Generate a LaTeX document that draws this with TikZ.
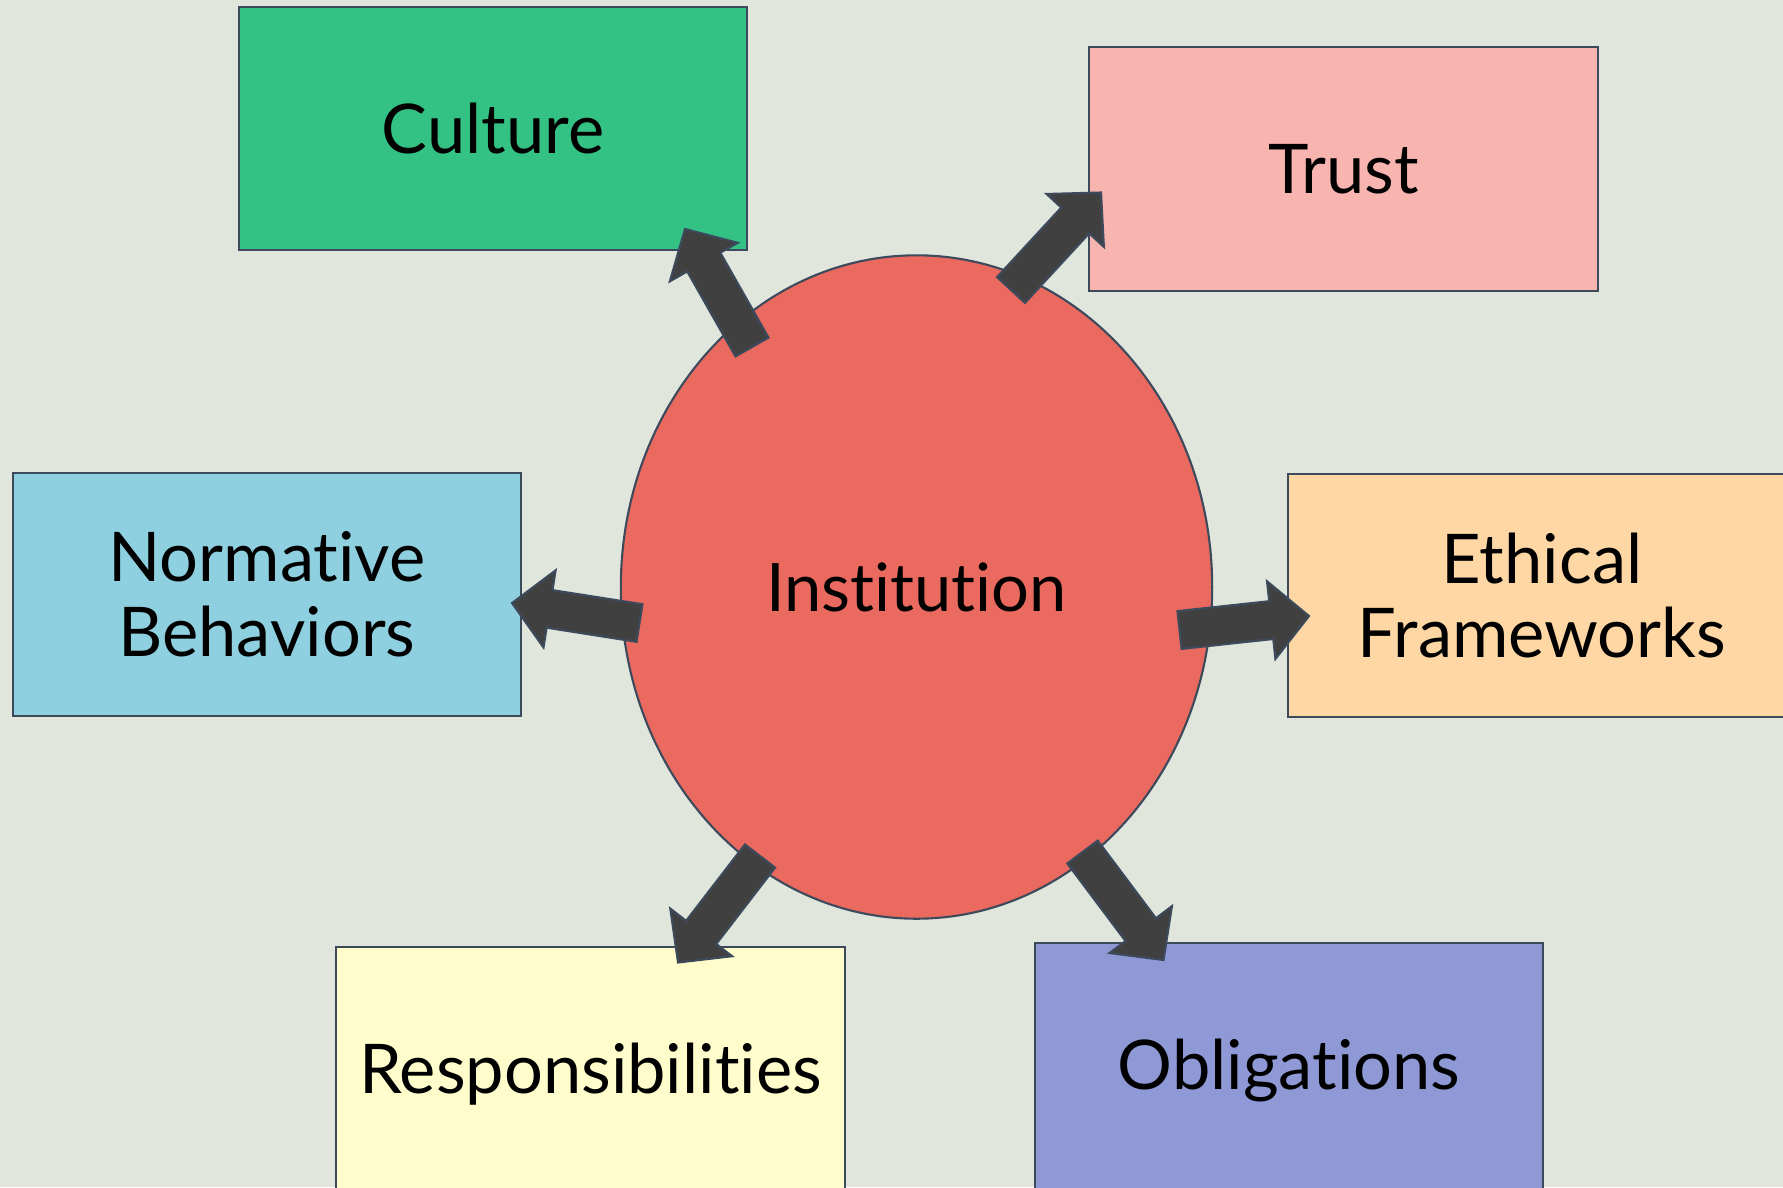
\documentclass[tikz,border=0pt]{standalone}
\usepackage{fontspec}
\setmainfont[Ligatures=NoCommon]{Lato}
\usepackage{tikz}
\usetikzlibrary{calc,shapes.geometric}
\definecolor{bgcol}{RGB}{224,230,220}
\definecolor{edgecol}{RGB}{61,74,92}
\definecolor{arrowcol}{RGB}{64,64,64}
\definecolor{culturegreen}{RGB}{51,193,132}
\definecolor{trustpink}{RGB}{248,181,176}
\definecolor{normblue}{RGB}{142,208,224}
\definecolor{ethicorange}{RGB}{254,215,165}
\definecolor{respyellow}{RGB}{255,253,204}
\definecolor{obligpurple}{RGB}{142,153,214}
\definecolor{instred}{RGB}{234,106,95}

% block arrow from tail to tip
\newcommand{\blockarrow}[2]{%
  \coordinate (ba-base) at ($(#2)!0.38cm!(#1)$);
  \draw[blockarr] ($(#1)!0.19cm!90:(#2)$) -- ($(ba-base)!0.19cm!90:(#2)$)
    -- ($(ba-base)!0.39cm!90:(#2)$) -- (#2) -- ($(ba-base)!0.39cm!-90:(#2)$)
    -- ($(ba-base)!0.19cm!-90:(#2)$) -- ($(#1)!0.19cm!-90:(#2)$) -- cycle;
}

\begin{document}
\begin{tikzpicture}[x=0.01cm,y=-0.01cm,
    topic/.style={rectangle,draw=edgecol,line width=0.6pt,inner sep=0pt,align=center,
      minimum width=5.08cm,minimum height=2.43cm,font=\fontsize{19.5}{21.3}\selectfont},
    blockarr/.style={fill=arrowcol,draw=edgecol,line width=0.6pt,line join=miter}]

    \useasboundingbox (0,0) rectangle (1783,1187);
    \fill[bgcol] (0,0) rectangle (1783,1187);

    % Centre
    \node[ellipse,draw=edgecol,line width=0.6pt,fill=instred,minimum width=5.91cm,minimum height=6.63cm,
      inner sep=0pt,font=\fontsize{19}{21.3}\selectfont] at (916.5,587) (inst) {Institution};

    % Surrounding topics
    \node[topic,fill=culturegreen] at (493,128.5) (culture) {Culture};
    \node[topic,fill=trustpink] at (1343.5,169) (trust) {Trust};
    \node[topic,fill=normblue] at (267,594.5) (normative) {Normative\\Behaviors};
    \node[topic,fill=ethicorange] at (1542,595.5) (ethical) {Ethical\\Frameworks};
    \node[topic,fill=respyellow,minimum height=2.55cm] at (590.5,1074.5) (resp) {Responsibilities};
    \node[topic,fill=obligpurple,minimum height=2.55cm] at (1289,1070.5) (oblig) {Obligations};

    % Arrow ends
    \coordinate (culture-tail) at (752,347);
    \coordinate (culture-tip) at (685,229);
    \coordinate (trust-tail) at (1011,290);
    \coordinate (trust-tip) at (1101,192.5);
    \coordinate (ethical-tail) at (1179.5,630);
    \coordinate (ethical-tip) at (1309,616);
    \coordinate (oblig-tail) at (1082.5,852);
    \coordinate (oblig-tip) at (1163.5,960);
    \coordinate (resp-tail) at (760,856);
    \coordinate (resp-tip) at (678,962.5);
    \coordinate (normative-tail) at (639.5,623);
    \coordinate (normative-tip) at (512,603);

    % Arrows out
    \blockarrow{culture-tail}{culture-tip}
    \blockarrow{trust-tail}{trust-tip}
    \blockarrow{ethical-tail}{ethical-tip}
    \blockarrow{oblig-tail}{oblig-tip}
    \blockarrow{resp-tail}{resp-tip}
    \blockarrow{normative-tail}{normative-tip}
\end{tikzpicture}
\end{document}
